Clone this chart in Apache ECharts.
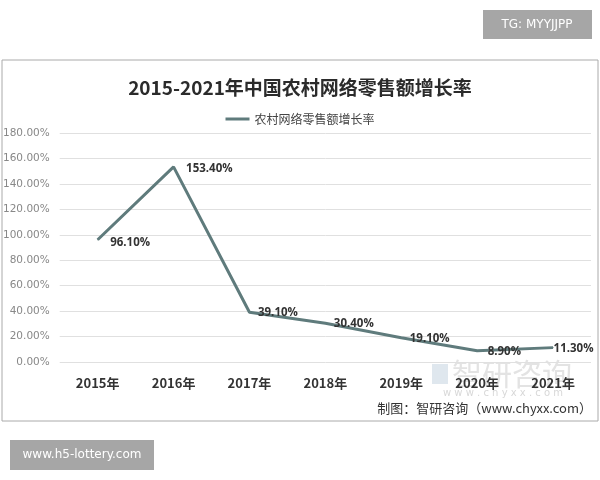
<!DOCTYPE html>
<html><head><meta charset="utf-8">
<script src="https://cdn.jsdelivr.net/npm/echarts@6/dist/echarts.min.js"></script>
<style>html,body{margin:0;padding:0;background:#fff}#c{width:600px;height:480px}</style>
</head><body><div id="c"></div>
<script>
const categories = ['2015年','2016年','2017年','2018年','2019年','2020年','2021年'];
const growth = [96.1, 153.4, 39.1, 30.4, 19.1, 8.9, 11.3];
const seriesName = '农村网络零售额增长率';
const titleText = '2015-2021年中国农村网络零售额增长率';

const labelOffsets = [[4,3],[4,2],[0,0],[0,0],[0,1],[2,1],[-8,1]];

const chart = echarts.init(document.getElementById('c'));
chart.setOption({
  backgroundColor: '#fff',
  animation: false,
  title: {
    text: titleText, left: 'center', top: 73,
    textStyle: {fontFamily: 'Noto Sans CJK SC', fontSize: 19, fontWeight: 'bold', color: '#2b2b2b'}
  },
  legend: {
    top: 108, left: 'center', itemWidth: 24, itemHeight: 3, icon: 'rect', itemGap: 6,
    textStyle: {fontFamily: 'Noto Sans CJK SC', fontSize: 12, color: '#444'},
    data: [seriesName]
  },
  grid: {left: 55, right: 9, top: 133, bottom: 118},
  xAxis: {
    type: 'category', data: categories, boundaryGap: true,
    axisLine: {show: false}, axisTick: {show: false},
    axisLabel: {margin: 15, fontFamily: 'Noto Sans CJK SC', fontSize: 13, fontWeight: 'bold', color: '#333'}
  },
  yAxis: {
    type: 'value', min: 0, max: 180, interval: 20,
    axisLine: {show: false}, axisTick: {show: false},
    splitLine: {lineStyle: {color: '#e0e0e0', width: 1}},
    axisLabel: {margin: 10, fontFamily: 'DejaVu Sans', fontSize: 10.5, color: '#888',
      formatter: v => v.toFixed(2) + '%'}
  },
  series: [{
    name: seriesName, type: 'line',
    data: growth.map((v,i)=>({value:v, label:{offset: labelOffsets[i]}})),
    symbol: 'circle', symbolSize: 1, showSymbol: true,
    lineStyle: {color: '#5f7b7c', width: 3}, itemStyle: {color: '#5f7b7c'},
    label: {show: true, position: 'right', fontFamily: 'Open Sans', fontSize: 11.5, fontWeight: 'bold', color: '#333',
      distance: 8, formatter: p => p.value.toFixed(2) + '%'}
  }],
  graphic: [
    {type: 'rect', shape: {x: 2, y: 60, width: 596, height: 361}, style: {fill: 'none', stroke: '#aaa', lineWidth: 1}, z: -1},
    {type: 'rect', shape: {x: 483, y: 10, width: 109, height: 29}, style: {fill: '#a6a6a6'}},
    {type: 'text', x: 537, y: 25, style: {text: 'TG: MYYJJPP', fill: '#fff', font: '12px "DejaVu Sans"', align: 'center', verticalAlign: 'middle'}},
    {type: 'rect', shape: {x: 10, y: 440, width: 144, height: 30}, style: {fill: '#a6a6a6'}},
    {type: 'text', x: 82, y: 455, style: {text: 'www.h5-lottery.com', fill: '#fff', font: '12px "DejaVu Sans"', align: 'center', verticalAlign: 'middle'}},
    {type: 'rect', shape: {x: 432, y: 364, width: 16, height: 20}, z: -1, style: {fill: '#dfe7ee'}},
    {type: 'text', x: 512, y: 374, z: -1, style: {text: '智研咨询', fill: '#e3e3e3', font: '30px "Noto Sans CJK SC"', align: 'center', verticalAlign: 'middle'}},
    {type: 'text', x: 503, y: 393, z: -1, style: {text: 'w w w . c h y x x . c o m', fill: '#d8d8d8', font: '10px "DejaVu Sans"', align: 'center', verticalAlign: 'middle'}},
    {type: 'text', x: 592, y: 408, style: {text: '制图：智研咨询（www.chyxx.com）', fill: '#333', font: '13px "Noto Sans CJK SC"', align: 'right', verticalAlign: 'middle'}}
  ]
});
</script></body></html>
